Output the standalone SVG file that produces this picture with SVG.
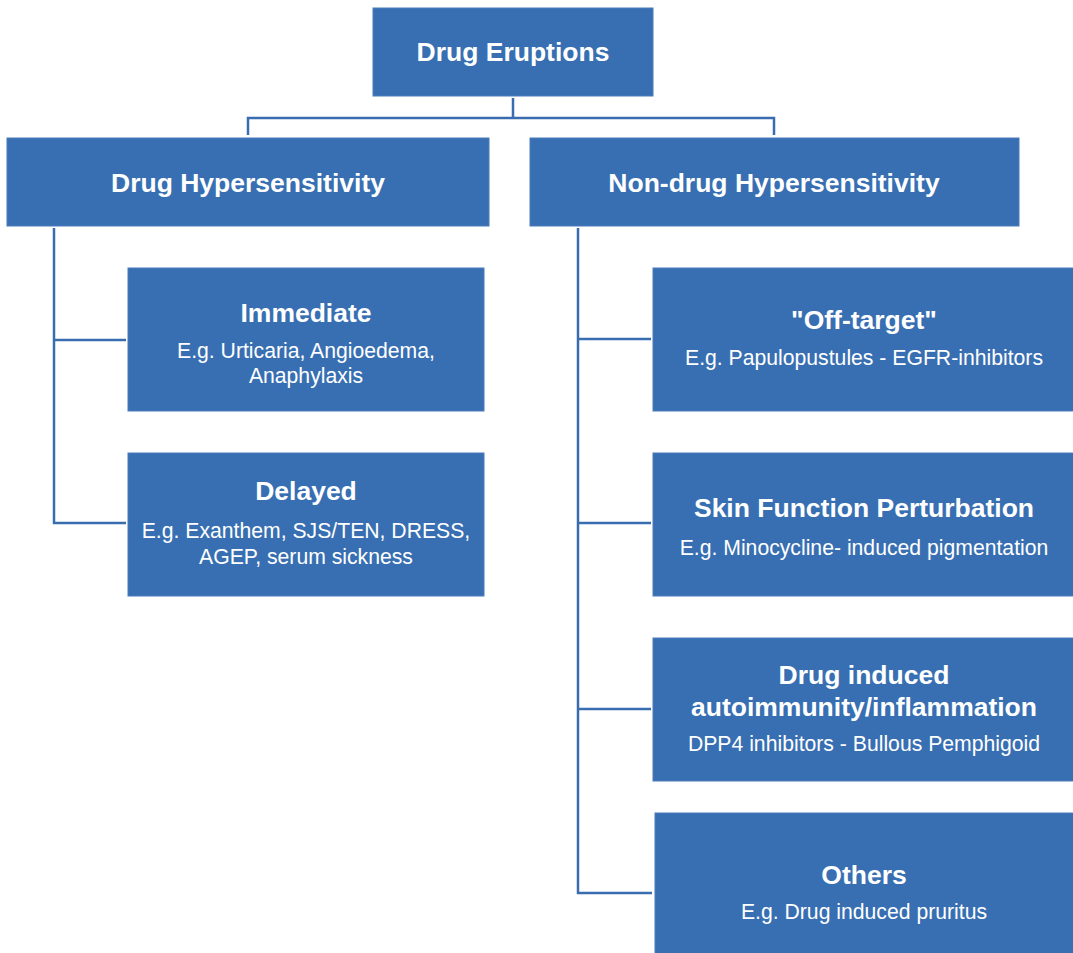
<svg xmlns="http://www.w3.org/2000/svg" width="1073" height="953" viewBox="0 0 1073 953">
<style>
.box{fill:#386FB2;stroke:#4A7CBB;stroke-width:1}
.t{font-family:"Liberation Sans",Arial,sans-serif;font-weight:bold;font-size:26.5px;fill:#fff;text-anchor:middle}
.s{font-family:"Liberation Sans",Arial,sans-serif;font-size:21.2px;fill:#fff;text-anchor:middle}
.c{fill:none;stroke:#3A6DAF;stroke-width:2.5}
</style>
<rect width="1073" height="953" fill="#fff"/>
<g id="connectors">
<path class="c" d="M513,98 V118 M248,135 V118 H774 V135"/>
<path class="c" d="M54,228 V523 H126 M54,340 H126"/>
<path class="c" d="M578,228 V893 H652 M578,339 H651 M578,523 H651 M578,709 H651"/>
</g>
<g id="root"><rect class="box" x="373" y="8" width="280" height="88"/><text class="t" x="513" y="61">Drug Eruptions</text></g>
<g id="drug-hyper"><rect class="box" x="7" y="138" width="482" height="88"/><text class="t" x="248" y="192">Drug Hypersensitivity</text></g>
<g id="nondrug-hyper"><rect class="box" x="530" y="138" width="489" height="88"/><text class="t" x="774" y="192">Non-drug Hypersensitivity</text></g>
<g id="immediate"><rect class="box" x="128" y="268" width="356" height="143"/><text class="t" x="306" y="322">Immediate</text><text class="s" x="306" y="358">E.g. Urticaria, Angioedema,</text><text class="s" x="306" y="383">Anaphylaxis</text></g>
<g id="delayed"><rect class="box" x="128" y="453" width="356" height="143"/><text class="t" x="306" y="500">Delayed</text><text class="s" x="306" y="538">E.g. Exanthem, SJS/TEN, DRESS,</text><text class="s" x="306" y="564">AGEP, serum sickness</text></g>
<g id="off-target"><rect class="box" x="653" y="268" width="425" height="143"/><text class="t" x="864" y="329">"Off-target"</text><text class="s" x="864" y="365">E.g. Papulopustules - EGFR-inhibitors</text></g>
<g id="skin-function"><rect class="box" x="653" y="453" width="425" height="143"/><text class="t" x="864" y="517">Skin Function Perturbation</text><text class="s" x="864" y="555">E.g. Minocycline- induced pigmentation</text></g>
<g id="autoimmunity"><rect class="box" x="653" y="638" width="425" height="143"/><text class="t" x="864" y="684">Drug induced</text><text class="t" x="864" y="716">autoimmunity/inflammation</text><text class="s" x="864" y="751">DPP4 inhibitors - Bullous Pemphigoid</text></g>
<g id="others"><rect class="box" x="655" y="813" width="423" height="145"/><text class="t" x="864" y="884">Others</text><text class="s" x="864" y="919">E.g. Drug induced pruritus</text></g>
</svg>
